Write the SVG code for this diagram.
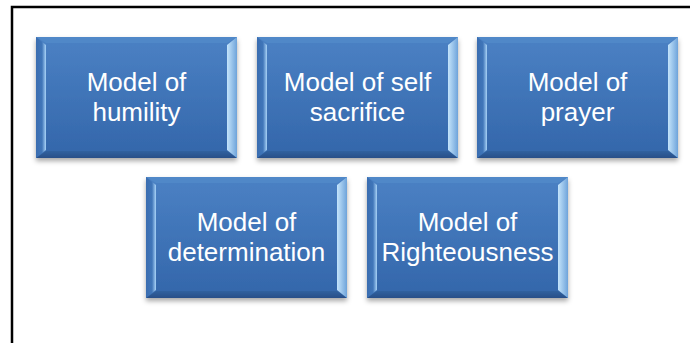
<svg xmlns="http://www.w3.org/2000/svg" xmlns:xlink="http://www.w3.org/1999/xlink" width="690" height="343" viewBox="0 0 690 343">
  <style>
    .label { font-family: "Liberation Sans", Arial, sans-serif; font-size: 26px; fill: #ffffff; text-anchor: middle; }
    .frame { fill: none; stroke: #000000; stroke-width: 2.5; }
  </style>
  <defs>
    <linearGradient id="face" x1="0" y1="0" x2="0" y2="1">
      <stop offset="0" stop-color="#4b81c4"/>
      <stop offset="1" stop-color="#3366aa"/>
    </linearGradient>
    <linearGradient id="bevelL" gradientUnits="userSpaceOnUse" x1="0" y1="0" x2="10" y2="0">
      <stop offset="0" stop-color="#3a6db0"/>
      <stop offset="0.6" stop-color="#4076b9"/>
      <stop offset="1" stop-color="#a9d3f7"/>
    </linearGradient>
    <linearGradient id="bevelR" gradientUnits="userSpaceOnUse" x1="191" y1="0" x2="201" y2="0">
      <stop offset="0" stop-color="#c4e4fb"/>
      <stop offset="1" stop-color="#6ea3da"/>
    </linearGradient>
    <linearGradient id="bevelB" x1="0" y1="0" x2="0" y2="1">
      <stop offset="0" stop-color="#30619f"/>
      <stop offset="1" stop-color="#284f88"/>
    </linearGradient>
    <filter id="shadow" x="-10%" y="-10%" width="120%" height="130%">
      <feDropShadow dx="0" dy="3" stdDeviation="2.5" flood-color="#000000" flood-opacity="0.35"/>
    </filter>
    <!-- bevelled tile, 201 x 121 -->
    <g id="tile">
      <rect x="0" y="0" width="201" height="121" fill="url(#face)" filter="url(#shadow)"/>
      <polygon points="0,0 201,0 191,6 10,6" fill="#5088c8"/>
      <polygon points="0,121 10,114 191,114 201,121" fill="url(#bevelB)"/>
      <polygon points="0,0 10,8 10,113 0,121" fill="url(#bevelL)"/>
      <polygon points="201,0 191,8 191,113 201,121" fill="url(#bevelR)"/>
    </g>
  </defs>

  <!-- outer frame (top and left edges) -->
  <path class="frame" d="M12,360 L12,7 L700,7"/>

  <g id="humility" transform="translate(36,37)">
    <use xlink:href="#tile"/>
    <text class="label" x="100.5" y="54">Model of</text>
    <text class="label" x="100.5" y="84">humility</text>
  </g>

  <g id="self-sacrifice" transform="translate(257,37)">
    <use xlink:href="#tile"/>
    <text class="label" x="100.5" y="54">Model of self</text>
    <text class="label" x="100.5" y="84">sacrifice</text>
  </g>

  <g id="prayer" transform="translate(477,37)">
    <use xlink:href="#tile"/>
    <text class="label" x="100.5" y="54">Model of</text>
    <text class="label" x="100.5" y="84">prayer</text>
  </g>

  <g id="determination" transform="translate(146,177)">
    <use xlink:href="#tile"/>
    <text class="label" x="100.5" y="54">Model of</text>
    <text class="label" x="100.5" y="84">determination</text>
  </g>

  <g id="righteousness" transform="translate(367,177)">
    <use xlink:href="#tile"/>
    <text class="label" x="100.5" y="54">Model of</text>
    <text class="label" x="100.5" y="84">Righteousness</text>
  </g>

  <g id="connectors"></g>
</svg>
